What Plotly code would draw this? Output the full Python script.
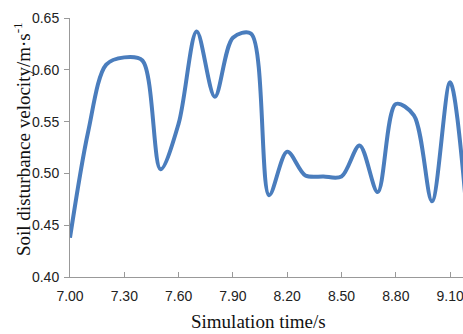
import plotly.graph_objects as go

time_s = [7.0, 7.1, 7.2, 7.3, 7.4, 7.5, 7.6, 7.7, 7.8, 7.9, 8.0, 8.1,
          8.2, 8.3, 8.4, 8.5, 8.6, 8.7, 8.8, 8.9, 9.0, 9.1, 9.2]
velocity = [0.438, 0.540, 0.605, 0.612, 0.609, 0.504, 0.548, 0.637, 0.574,
            0.631, 0.635, 0.479, 0.521, 0.498, 0.497, 0.497, 0.527, 0.482,
            0.567, 0.556, 0.473, 0.588, 0.445]
x_ticks = [7.0, 7.3, 7.6, 7.9, 8.2, 8.5, 8.8, 9.1]
x_tick_labels = ["7.00", "7.30", "7.60", "7.90", "8.20", "8.50", "8.80", "9.10"]
y_ticks = [0.40, 0.45, 0.50, 0.55, 0.60, 0.65]
y_tick_labels = ["0.40", "0.45", "0.50", "0.55", "0.60", "0.65"]

W, H = 463, 334
ml, mr, mt, mb = 70, 0, 18, 57
pw = W - ml - mr
ph = H - mt - mb

fig = go.Figure()
fig.add_trace(go.Scatter(
    x=time_s, y=velocity, mode="lines",
    line=dict(color="#4a7dbd", width=4, shape="spline", smoothing=0.9),
    showlegend=False, hoverinfo="skip", cliponaxis=True,
))

axis_color = "#999999"
tick_font = dict(family="Liberation Sans, Arial, sans-serif", size=14, color="#222222")
fig.update_xaxes(
    range=[7.0, 7.0 + pw / 181.0], tickvals=x_ticks, ticktext=x_tick_labels,
    showgrid=False, zeroline=False, showline=True, linecolor=axis_color, linewidth=1,
    ticks="inside", ticklen=5, tickcolor=axis_color, tickfont=tick_font,
    ticklabelstandoff=6, ticklabeloverflow="allow",
)
fig.update_yaxes(
    range=[0.40, 0.65], tickvals=y_ticks, ticktext=y_tick_labels,
    showgrid=False, zeroline=False, showline=True, linecolor=axis_color, linewidth=1,
    ticks="outside", ticklen=5, tickcolor=axis_color, tickfont=tick_font,
    ticklabelstandoff=2,
)

title_font = dict(family="Liberation Serif, Times New Roman, serif", size=19, color="#111111")
fig.add_annotation(
    text="Simulation time/s", xref="paper", yref="paper",
    x=(258 - ml) / pw, y=-(321 - mt - ph) / ph, xanchor="center", yanchor="middle",
    showarrow=False, font=title_font,
)
fig.add_annotation(
    text="Soil disturbance velocity/m·s<sup>-1</sup>", xref="paper", yref="paper",
    x=(22 - ml) / pw, y=1 - (139 - mt) / ph, xanchor="center", yanchor="middle",
    textangle=-90, showarrow=False, font=title_font,
)

fig.update_layout(
    width=W, height=H, margin=dict(l=ml, r=mr, t=mt, b=mb),
    paper_bgcolor="white", plot_bgcolor="white",
)
fig.write_html("out.html")
